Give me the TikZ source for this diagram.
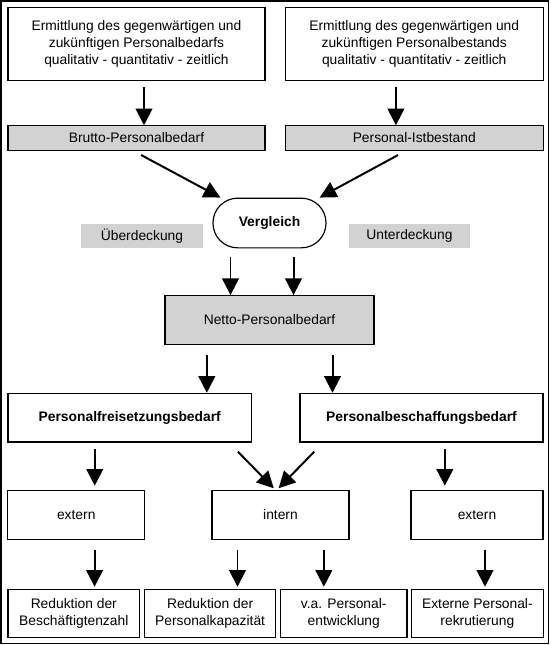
\documentclass[tikz,border=0pt]{standalone}
\usepackage{fontspec}
\setmainfont{Liberation Sans}
\usetikzlibrary{arrows.meta}

\begin{document}
\begin{tikzpicture} [x=0.03cm,y=-0.03cm,line width=1pt,
			every node/.style={font=\fontsize{11.8}{14.2}\selectfont,align=center,inner sep=1pt},
			box/.style={draw,minimum height=1.47cm},
			grey box/.style={box,fill=gray!35},
			tag/.style={fill=gray!35,minimum height=0.73cm},
			bold/.style={font=\fontsize{11.8}{14.2}\selectfont\bfseries},
			arr/.style={-{Triangle[length=0.5cm,width=0.5cm]},line width=1.7pt}]

		\useasboundingbox (0,0) rectangle (550,645);
		\draw (1,1) rectangle (548.5,643.5);

		\node [box, minimum width=7.71cm, minimum height=2.2cm] (ermBedarf) at (136.5,44)
			{Ermittlung des gegenwärtigen und\\zukünftigen Personalbedarfs\\qualitativ - quantitativ - zeitlich};
		\node [box, minimum width=7.73cm, minimum height=2.2cm] (ermBestand) at (414.25,44)
			{Ermittlung des gegenwärtigen und\\zukünftigen Personalbestands\\qualitativ - quantitativ - zeitlich};
		\node [grey box, minimum width=7.71cm, minimum height=0.73cm] (brutto) at (136.5,138) {Brutto-Personalbedarf};
		\node [grey box, minimum width=7.73cm, minimum height=0.73cm] (ist) at (414.25,138) {Personal-Istbestand};

		\node [draw, bold, rounded corners=0.74cm, minimum width=3.39cm, minimum height=1.49cm] (vgl) at (269.5,223) {Vergleich};
		\node [tag, minimum width=3.66cm] (ueber) at (142,236) {Überdeckung};
		\node [tag, minimum width=3.63cm] (unter) at (409.5,236) {Unterdeckung};

		\node [grey box, minimum width=6.27cm, minimum height=1.46cm] (netto) at (269.5,320) {Netto-Personalbedarf};
		\node [box, bold, minimum width=7.3cm, minimum height=1.46cm] (frei) at (129.75,417.7) {Personalfreisetzungsbedarf};
		\node [box, bold, minimum width=7.29cm, minimum height=1.46cm] (besch) at (421.5,417.7) {Personalbeschaffungsbedarf};

		\node [box, minimum width=4.1cm] (externA) at (76.25,514.8) {extern};
		\node [box, minimum width=4.11cm] (intern) at (280.5,514.8) {intern};
		\node [box, minimum width=3.96cm] (externB) at (477,514.8) {extern};

		\node [box, minimum width=3.95cm, minimum height=1.45cm] (redZahl) at (73.8,613.5) {Reduktion der\\Beschäftigtenzahl};
		\node [box, minimum width=3.94cm, minimum height=1.45cm] (redKap) at (210.1,613.5) {Reduktion der\\Personalkapazität};
		\node [box, minimum width=3.79cm, minimum height=1.45cm] (entw) at (343.75,613.5) {v.a. Personal-\\entwicklung};
		\node [box, minimum width=3.96cm, minimum height=1.45cm] (rekr) at (477.35,613.5) {Externe Personal-\\rekrutierung};

		\draw [arr, shorten <=0.18cm] ([xshift=0.225cm]ermBedarf.south) -- ([xshift=0.225cm]ermBedarf.south |- brutto.north);
		\draw [arr, shorten <=0.18cm] ([xshift=-0.55cm]ermBestand.south) -- ([xshift=-0.55cm]ermBestand.south |- ist.north);
		\draw [arr, shorten <=0.27cm] ([xshift=-0.1cm]brutto.south) -- ([xshift=0.24cm]vgl.north west);
		\draw [arr, shorten <=0.27cm] ([xshift=-0.25cm]ist.south) -- ([xshift=-0.21cm]vgl.north east);
		\draw [arr, shorten <=0.27cm] ([xshift=-1.17cm]vgl.south) -- ([xshift=-1.17cm]vgl.south |- netto.north);
		\draw [arr, shorten <=0.27cm] ([xshift=0.72cm]vgl.south) -- ([xshift=0.72cm]vgl.south |- netto.north);
		\draw [arr, shorten <=0.3cm] ([xshift=-1.88cm]netto.south) -- ([xshift=-1.88cm]netto.south |- frei.north);
		\draw [arr, shorten <=0.3cm] ([xshift=1.89cm]netto.south) -- ([xshift=1.89cm]netto.south |- besch.north);
		\draw [arr, shorten <=0.19cm, shorten >=0.12cm] ([xshift=-1.05cm]frei.south) -- ([xshift=-1.05cm]frei.south |- externA.north);
		\draw [arr, shorten <=0.38cm, shorten >=0.06cm] ([xshift=-0.69cm]frei.south east) -- ([xshift=-0.16cm]intern.north);
		\draw [arr, shorten <=0.38cm, shorten >=0.06cm] ([xshift=0.71cm]besch.south west) -- ([xshift=-0.1cm]intern.north);
		\draw [arr, shorten <=0.19cm, shorten >=0.12cm] ([xshift=0.7cm]besch.south) -- ([xshift=0.7cm]besch.south |- externB.north);
		\draw [arr, shorten <=0.29cm, shorten >=0.06cm] ([xshift=0.55cm]externA.south) -- ([xshift=0.55cm]externA.south |- redZahl.north);
		\draw [arr, shorten <=0.29cm, shorten >=0.06cm] ([xshift=-1.29cm]intern.south) -- ([xshift=-1.29cm]intern.south |- redKap.north);
		\draw [arr, shorten <=0.29cm, shorten >=0.06cm] ([xshift=1.3cm]intern.south) -- ([xshift=1.3cm]intern.south |- entw.north);
		\draw [arr, shorten <=0.29cm, shorten >=0.06cm] ([xshift=0.24cm]externB.south) -- ([xshift=0.24cm]externB.south |- rekr.north);

		\end{tikzpicture}
\end{document}
